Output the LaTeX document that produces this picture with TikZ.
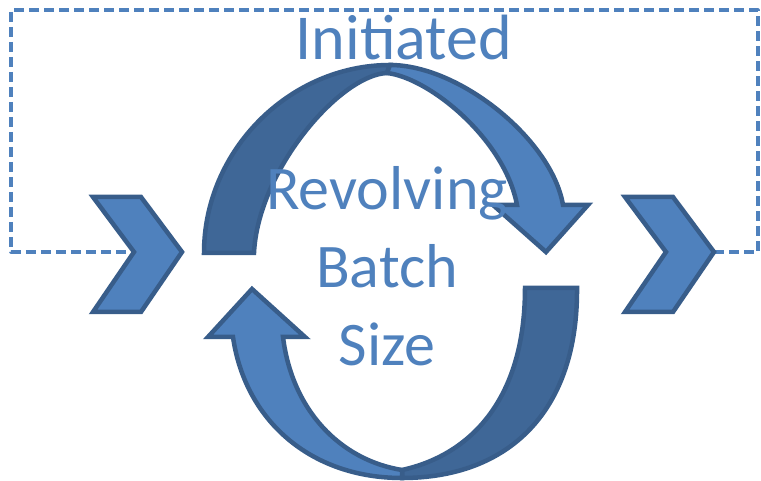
\documentclass[tikz,border=0pt]{standalone}
\usepackage{fontspec}
\setmainfont{Carlito}
\definecolor{accent}{HTML}{4F81BD}
\definecolor{rim}{HTML}{385D8A}
\definecolor{shade}{HTML}{3F6797}
\begin{document}
\begin{tikzpicture}[x=1pt,y=-1pt,line join=round,line cap=round,
	band/.style={draw=rim,line width=4.5pt,fill=accent,line join=miter},
	backband/.style={band,fill=shade},
	loop/.style={draw=accent,line width=3.2pt,dash pattern=on 10pt off 5pt,line cap=butt},
	lbl/.style={text=accent,inner sep=0pt,font=\fontsize{62}{78}\selectfont}]
		\useasboundingbox (0,0) rectangle (761,481);
		\path (11,10)coordinate (NW)
		(758,10)coordinate (NE);
		% chevrons
		\foreach \x/\n in {93/L,625/R}{
			\path[shift={(\x,0)}] (0,197)coordinate (\n a)
			(48,197)coordinate (\n b)
			(89,252)coordinate (\n tip)
			(48,312)coordinate (\n c)
			(0,312)coordinate (\n d)
			(41,252)coordinate (\n notch);
			}
		\draw[loop] (Rtip) -| (NE) -- (NW) |- (Lnotch);
		\foreach \n in {L,R}{
			\draw[band] (\n a)--(\n b)--(\n tip)--(\n c)--(\n d)--(\n notch)--cycle;
			}
		% upper ring
		\draw[backband] (204,253) .. controls (204,150) and (290,65) .. (390,65) -- (387,73)
			.. controls (340,75) and (258,170) .. (254,253) -- cycle;
		\draw[band] (387,73) -- (390,65) .. controls (460,65) and (552,140) .. (563,205)
			-- (588,205) -- (546,252) -- (493,205) -- (517,205)
			.. controls (505,140) and (430,78) .. cycle;
		% lower ring
		\draw[backband] (577,288) .. controls (578,410) and (510,478) .. (402,478) -- (402,470)
			.. controls (470,455) and (525,400) .. (525,288) -- cycle;
		\draw[band] (402,470) -- (402,478) .. controls (310,478) and (245,420) .. (233,337)
			-- (208,337) -- (252,289) -- (305,337) -- (283,337)
			.. controls (292,410) and (340,460) .. cycle;
		% labels
		\node[lbl,font=\fontsize{64}{78}\selectfont,anchor=base] (init) at (404,60) {Initiated};
		\node[lbl,align=center,anchor=base] (rbs) at (387,365) {Revolving\\Batch\\Size};
\end{tikzpicture}
\end{document}
